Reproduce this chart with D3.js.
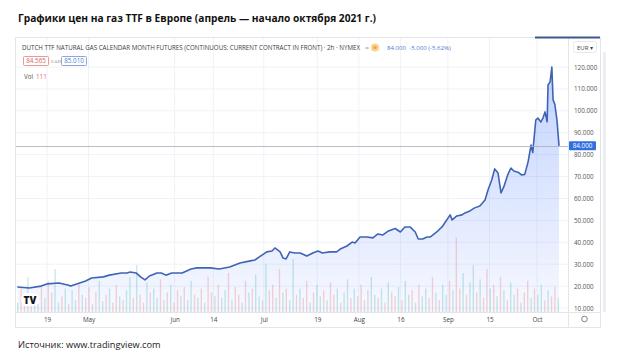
<!DOCTYPE html>
<html><head><meta charset="utf-8">
<script src="https://cdn.jsdelivr.net/npm/d3@7/dist/d3.min.js"></script>
<style>
html,body{margin:0;padding:0;background:#fff;}
svg{display:block;font-family:"Open Sans","Noto Sans",sans-serif;}
</style></head>
<body><svg id="c" width="620" height="364"></svg>
<script>
// ---- data ----
const priceDates = [
"2021-04-09 00","2021-04-13 00","2021-04-17 00","2021-04-19 00","2021-04-23 00","2021-04-26 00","2021-04-27 00","2021-04-29 00",
"2021-05-02 00","2021-05-04 00","2021-05-08 00","2021-05-10 00","2021-05-14 00","2021-05-16 00","2021-05-17 00","2021-05-19 00",
"2021-05-20 12","2021-05-22 00","2021-05-23 12","2021-05-26 00","2021-05-27 12","2021-05-29 00","2021-05-31 00",
"2021-06-03 12","2021-06-06 12","2021-06-08 12","2021-06-13 00","2021-06-16 00","2021-06-19 12","2021-06-23 00","2021-06-26 12",
"2021-06-28 00","2021-06-29 12","2021-07-02 00","2021-07-03 18","2021-07-04 18","2021-07-06 12","2021-07-07 12","2021-07-08 12",
"2021-07-09 18","2021-07-11 12","2021-07-13 06","2021-07-15 12","2021-07-17 12","2021-07-19 06","2021-07-20 18","2021-07-23 06",
"2021-07-25 12","2021-07-26 18","2021-07-29 00","2021-07-30 18","2021-07-31 18","2021-08-02 10","2021-08-04 18","2021-08-06 18",
"2021-08-08 10","2021-08-10 00","2021-08-11 18","2021-08-14 06","2021-08-16 00","2021-08-17 12","2021-08-19 06","2021-08-21 00",
"2021-08-22 00","2021-08-23 12","2021-08-25 00","2021-08-26 00","2021-08-28 06","2021-08-30 06","2021-09-01 18","2021-09-02 10",
"2021-09-04 00","2021-09-05 18","2021-09-06 18","2021-09-08 10","2021-09-10 00","2021-09-11 18","2021-09-13 12","2021-09-14 12",
"2021-09-15 18","2021-09-16 18","2021-09-17 21","2021-09-18 21","2021-09-19 21","2021-09-21 05","2021-09-22 05","2021-09-23 05",
"2021-09-24 14","2021-09-25 21","2021-09-26 21","2021-09-28 00","2021-09-29 00","2021-09-29 14","2021-09-30 14","2021-10-01 07",
"2021-10-02 07","2021-10-03 00","2021-10-03 17","2021-10-04 10","2021-10-04 17","2021-10-05 10","2021-10-06 00","2021-10-06 10",
"2021-10-07 00","2021-10-07 17","2021-10-08 10"
];
const prices = [
19.6,19.1,20.0,21.0,21.4,20.5,20.0,21.0,
22.3,23.7,24.2,25.0,26.0,26.0,26.4,26.0,
24.2,22.8,24.6,26.0,26.0,25.0,26.0,
26.0,27.8,28.3,28.3,27.8,28.7,30.5,31.5,
31.9,33.3,35.6,36.0,37.4,35.6,32.8,32.4,
35.6,35.1,35.1,33.7,35.1,36.0,35.1,35.6,
35.6,36.9,38.3,40.1,39.7,42.4,42.4,42.0,
43.8,43.3,45.0,46.3,44.7,47.0,47.0,44.7,
41.5,41.5,42.4,42.4,44.7,47.4,52.5,50.2,
52.0,52.5,53.4,54.3,55.7,56.6,59.3,63.9,
68.4,73.5,71.6,62.5,65.5,71.0,73.9,72.5,
72.0,70.7,71.0,76.7,84.4,81.0,95.8,96.7,
94.9,96.7,99.5,95.0,111.8,113.2,120.0,105.0,
103.0,96.0,84.0
];
const volumes = [
12,30,8,45,15,22,10,35,18,40, 25,55,12,20,30,10,28,15,38,22,
18,32,10,26,40,14,22,30,12,35, 20,15,28,45,18,60,22,12,38,25,
30,18,42,15,25,35,12,28,20,32, 15,40,22,18,30,12,45,25,20,35,
18,28,50,15,32,22,12,40,25,30, 48,20,15,62,28,35,18,55,25,30,
15,68,22,30,18,40,12,25,35,20, 28,15,38,22,30,12,25,42,18,30,
20,35,15,28,45,22,18,30,12,38, 25,20,32,15,40,22,28,12,35,20,
30,18,45,25,15,35,22,40,28,95, 30,50,22,38,60,25,42,18,55,30,
35,20,45,28,15,38,22,30,12,25, 40,18,30,22,35,15,28,20,32,18
];
const volumeUp = "1001011010011010110100101101001011010010110101001011010100101101001010110100101011010010110100101101001011010100101101011001011010010110100101010110100101101001".split("");
const tickDates = ["2021-04-19","2021-05-03","2021-06-01","2021-06-14","2021-07-01","2021-07-19","2021-08-02","2021-08-16","2021-09-01","2021-09-15","2021-10-01"];
const tickLabels = ["19","May","Jun","14","Jul","19","Aug","16","Sep","15","Oct"];
const yTicks = [10,20,30,40,50,60,70,80,90,100,110,120];
const lastPrice = 84.0;
const titleText = "Графики цен на газ TTF в Европе (апрель — начало октября 2021 г.)";
const headerText = "DUTCH TTF NATURAL GAS CALENDAR MONTH FUTURES (CONTINUOUS: CURRENT CONTRACT IN FRONT) · 2h · NYMEX";
const changeText = "84.000  -5.000 (-5.62%)";
const sourceText = "Источник: www.tradingview.com";

// ---- drawing ----
const svg = d3.select("#c");
const parseDT = d3.timeParse("%Y-%m-%d %H");
const parseD = d3.timeParse("%Y-%m-%d");
const data = priceDates.map((d,i)=>({date:parseDT(d), v:prices[i]}));

const frame = {l:15, t:37, r:600, b:327};
const plotR = 568, axisY = 312;
const x = d3.scaleTime().domain([parseD("2021-04-19"), parseD("2021-10-01")]).range([47, 537]);
const y = d3.scaleLinear().domain([10,120]).range([308,67]);

// title
svg.append("text").attr("x",18).attr("y",22).attr("font-size",10.2).attr("font-weight",700)
  .attr("fill","#111").text(titleText);

// frame
svg.append("rect").attr("x",frame.l+0.5).attr("y",frame.t+0.5).attr("width",frame.r-frame.l).attr("height",frame.b-frame.t)
  .attr("fill","#fff").attr("stroke","#e3e5ea");
svg.append("rect").attr("x",frame.r+3).attr("y",frame.t+15).attr("width",3).attr("height",frame.b-frame.t-30).attr("fill","#eceef2");

const clipId="plotclip";
svg.append("clipPath").attr("id",clipId).append("rect").attr("x",frame.l+1).attr("y",frame.t+1).attr("width",plotR-frame.l-1).attr("height",axisY-frame.t-1);

// grid
const g = svg.append("g");
g.selectAll(".vg").data(tickDates).join("line")
  .attr("x1",d=>x(parseD(d))).attr("x2",d=>x(parseD(d))).attr("y1",frame.t+1).attr("y2",axisY)
  .attr("stroke","#f0f2f6").attr("stroke-width",1);
g.selectAll(".hg").data(yTicks).join("line")
  .attr("x1",frame.l+1).attr("x2",plotR).attr("y1",d=>y(d)).attr("y2",d=>y(d))
  .attr("stroke","#f0f2f6").attr("stroke-width",1);

// volume
const vx = d3.scaleBand().domain(d3.range(volumes.length)).range([17,559]).paddingInner(0.6);
const vy = d3.scaleLinear().domain([0,100]).range([0,78]);
svg.append("g").selectAll("rect").data(volumes).join("rect")
  .attr("x",(d,i)=>vx(i)).attr("width",Math.max(1,vx.bandwidth()))
  .attr("y",d=>axisY-vy(d)).attr("height",d=>vy(d))
  .attr("fill",(d,i)=>volumeUp[i]==="1"?"rgba(38,166,154,0.25)":"rgba(239,83,80,0.25)");

// gradient
const defs = svg.append("defs");
const grad = defs.append("linearGradient").attr("id","ag").attr("gradientUnits","userSpaceOnUse")
  .attr("x1",0).attr("x2",0).attr("y1",y(120)).attr("y2",axisY);
grad.append("stop").attr("offset",0).attr("stop-color","#2962ff").attr("stop-opacity",0.28);
grad.append("stop").attr("offset",1).attr("stop-color","#2962ff").attr("stop-opacity",0.04);

const pg = svg.append("g").attr("clip-path",`url(#${clipId})`);
pg.append("path").datum(data)
  .attr("d", d3.area().x(d=>x(d.date)).y0(axisY).y1(d=>y(d.v)))
  .attr("fill","url(#ag)");
pg.append("path").datum(data)
  .attr("d", d3.line().x(d=>x(d.date)).y(d=>y(d.v)))
  .attr("fill","none").attr("stroke","#3f64b5").attr("stroke-width",1.6).attr("stroke-linejoin","round");

// last price line
svg.append("line").attr("x1",frame.l+1).attr("x2",plotR).attr("y1",Math.round(y(lastPrice))+0.5).attr("y2",Math.round(y(lastPrice))+0.5)
  .attr("stroke","#a7adb8").attr("stroke-width",0.8);

// axes separators
svg.append("line").attr("x1",plotR+0.5).attr("x2",plotR+0.5).attr("y1",frame.t+1).attr("y2",frame.b).attr("stroke","#e3e5ea");
svg.append("line").attr("x1",frame.l+1).attr("x2",frame.r).attr("y1",axisY+0.5).attr("y2",axisY+0.5).attr("stroke","#e3e5ea");

// y axis
const yAxis = d3.axisRight(y).tickValues(yTicks).tickFormat(d3.format(".3f")).tickSize(0).tickPadding(6);
const ya = svg.append("g").attr("transform",`translate(${plotR},0)`).call(yAxis);
ya.select(".domain").remove();
ya.selectAll("text").attr("font-size",6.3).attr("fill","#555").attr("font-family","Open Sans, Noto Sans, sans-serif");

// x axis
const xAxis = d3.axisBottom(x).tickValues(tickDates.map(d=>parseD(d))).tickFormat((d,i)=>tickLabels[i]).tickSize(0).tickPadding(6);
const xa = svg.append("g").attr("transform",`translate(0,${axisY})`).call(xAxis);
xa.select(".domain").remove();
xa.selectAll("text").attr("font-size",6.3).attr("fill","#444").attr("font-family","Open Sans, Noto Sans, sans-serif");

// last price label
const ly = y(lastPrice);
svg.append("rect").attr("x",569).attr("y",ly-4.5).attr("width",27).attr("height",9).attr("rx",1).attr("fill","#2f6fe0");
svg.append("text").attr("x",582.5).attr("y",ly+2.2).attr("text-anchor","middle").attr("font-size",6.3).attr("fill","#fff").text(d3.format(".3f")(lastPrice));

// header
svg.append("text").attr("x",22).attr("y",50).attr("font-size",6.3).attr("fill","#3a3d45")
  .attr("textLength",338).attr("lengthAdjust","spacingAndGlyphs").text(headerText);
svg.append("text").attr("x",365).attr("y",50).attr("font-size",7).attr("fill","#999").text("=");
svg.append("circle").attr("cx",375).attr("cy",47.5).attr("r",4).attr("fill","#f9d48f");
svg.append("circle").attr("cx",375).attr("cy",47.5).attr("r",1.8).attr("fill","#f2a93b");
svg.append("text").attr("x",387).attr("y",50).attr("font-size",6.1).attr("fill","#4a7bd0").attr("xml:space","preserve").text(changeText);
svg.append("line").attr("x1",535).attr("x2",600).attr("y1",37.5).attr("y2",37.5).attr("stroke","#3a5a8c").attr("stroke-width",2);
svg.append("rect").attr("x",573.5).attr("y",41.5).attr("width",23).attr("height",11).attr("rx",2).attr("fill","#fff").attr("stroke","#e6e8ec");
svg.append("text").attr("x",585).attr("y",49.5).attr("text-anchor","middle").attr("font-size",6).attr("fill","#444").text("EUR ▾");

// OHLC row
svg.append("rect").attr("x",23.5).attr("y",56.5).attr("width",25).attr("height",9).attr("rx",1).attr("fill","#fff").attr("stroke","#e89a9a");
svg.append("text").attr("x",36).attr("y",63.3).attr("text-anchor","middle").attr("font-size",6.3).attr("fill","#d9605e").text("84.565");
svg.append("text").attr("x",51).attr("y",62.8).attr("font-size",4.2).attr("fill","#888").text("0.445");
svg.append("rect").attr("x",61.5).attr("y",56.5).attr("width",25).attr("height",9).attr("rx",1).attr("fill","#fff").attr("stroke","#8fa6d8");
svg.append("text").attr("x",74).attr("y",63.3).attr("text-anchor","middle").attr("font-size",6.3).attr("fill","#4a7bd0").text("85.010");
svg.append("text").attr("x",24).attr("y",79).attr("font-size",6.3).attr("fill","#555").text("Vol");
svg.append("text").attr("x",36).attr("y",79).attr("font-size",6.3).attr("fill","#e07070").text("111");

// TV logo
svg.append("rect").attr("x",21).attr("y",293).attr("width",18).attr("height",13).attr("rx",6).attr("fill","#fff");
svg.append("text").attr("x",30).attr("y",304).attr("text-anchor","middle").attr("font-size",10).attr("font-weight",800)
  .attr("fill","#131722").text("TV");

// settings circle
svg.append("circle").attr("cx",584.5).attr("cy",319).attr("r",2.8).attr("fill","none").attr("stroke","#666").attr("stroke-width",0.8);

// source
svg.append("text").attr("x",18).attr("y",348).attr("font-size",9.2).attr("fill","#222").text(sourceText);
</script></body></html>
